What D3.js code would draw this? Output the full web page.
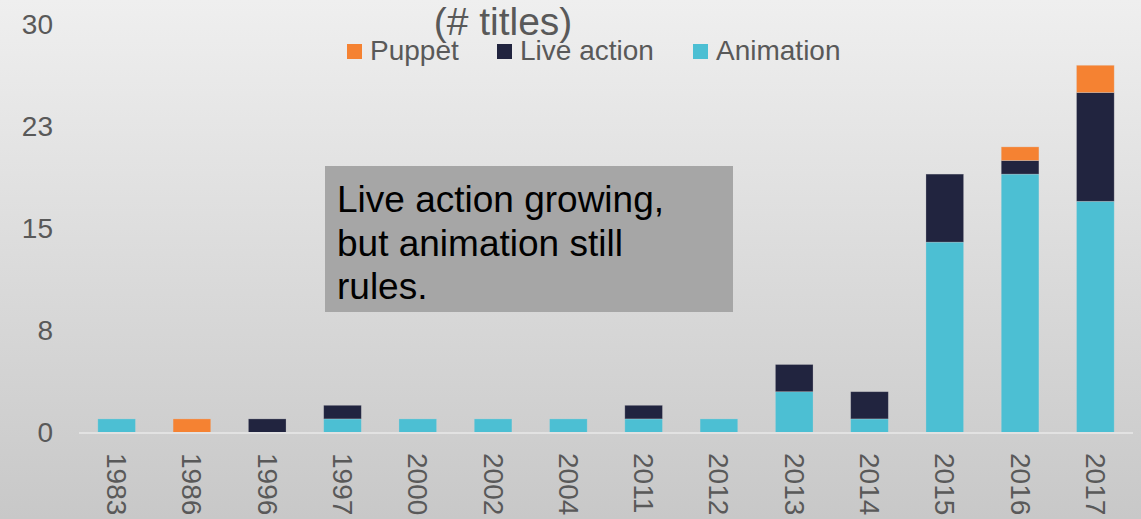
<!DOCTYPE html>
<html>
<head>
<meta charset="utf-8">
<script src="https://cdn.jsdelivr.net/npm/d3@7"></script>
<style>
  html, body { margin: 0; padding: 0; overflow: hidden; }
  svg { display: block; font-family: "Liberation Sans", Arial, sans-serif; }
</style>
</head>
<body>
<svg id="chart" width="1141" height="519"></svg>
<script>
// Titles released per year, split by format
const years = ["1983","1986","1996","1997","2000","2002","2004","2011","2012","2013","2014","2015","2016","2017"];
const animation  = [1, 0, 0, 1, 1, 1, 1, 1, 1, 3, 1, 14, 19, 17];
const liveAction = [0, 0, 1, 1, 0, 0, 0, 1, 0, 2, 2, 5, 1, 8];
const puppet     = [0, 1, 0, 0, 0, 0, 0, 0, 0, 0, 0, 0, 1, 2];
const seriesNames = ["Animation", "Live action", "Puppet"];
const legendOrder = ["Puppet", "Live action", "Animation"];
const yTicks = [0, 7.5, 15, 22.5, 30];
const titleText = "(# titles)";
const noteLines = ["Live action growing,", "but animation still", "rules."];

const colors = { "Animation": "#4cbfd3", "Live action": "#21243f", "Puppet": "#f58232" };

const svg = d3.select("#chart");
const W = 1141, H = 519;

// Background: soft vertical gradient
const defs = svg.append("defs");
const grad = defs.append("linearGradient").attr("id", "bg").attr("x1", 0).attr("y1", 0).attr("x2", 0).attr("y2", 1);
grad.append("stop").attr("offset", "0%").attr("stop-color", "#efefef");
grad.append("stop").attr("offset", "100%").attr("stop-color", "#c8c8c8");
svg.append("rect").attr("width", W).attr("height", H).attr("fill", "url(#bg)");

const x = d3.scaleBand().domain(years).range([79, 1133]).paddingInner(0.5).paddingOuter(0.25);
const y = d3.scaleLinear().domain([0, 30]).range([432.5, 24.5]);

const table = years.map((yr, i) => ({
  year: yr,
  "Animation": animation[i],
  "Live action": liveAction[i],
  "Puppet": puppet[i]
}));
const stacked = d3.stack().keys(seriesNames)(table);

// Bars
svg.append("g").selectAll("g")
  .data(stacked)
  .join("g")
  .attr("fill", d => colors[d.key])
  .selectAll("rect")
  .data(d => d.filter(p => p[1] - p[0] > 0))
  .join("rect")
  .attr("x", d => x(d.data.year))
  .attr("width", x.bandwidth())
  .attr("y", d => y(d[1]))
  .attr("height", d => y(d[0]) - y(d[1]))
  .attr("stroke", "#d9d9d9")
  .attr("stroke-opacity", 0.35)
  .attr("stroke-width", 0.75);

// Baseline
svg.append("line")
  .attr("x1", 79).attr("x2", 1133)
  .attr("y1", y(0) + 0.5).attr("y2", y(0) + 0.5)
  .attr("stroke", "#e2e2e2").attr("stroke-width", 2);

// Y axis labels (rounded like the source format)
const yAxis = d3.axisLeft(y).tickValues(yTicks).tickSize(0).tickPadding(0)
  .tickFormat(d => d3.format(".0f")(Math.round(d)));
const yg = svg.append("g").attr("transform", "translate(53,0)").call(yAxis);
yg.select(".domain").remove();
yg.selectAll("text")
  .attr("font-size", 28)
  .attr("fill", "#595959")
  .attr("font-family", "'Liberation Sans', Arial, sans-serif");

// X axis labels, rotated to read top to bottom
const xAxis = d3.axisBottom(x).tickSize(0).tickPadding(0);
const xg = svg.append("g").call(xAxis);
xg.select(".domain").remove();
xg.selectAll(".tick").attr("transform", d => `translate(${x(d) + x.bandwidth() / 2},453)`);
xg.selectAll("text")
  .attr("y", 0).attr("x", 0).attr("dy", null)
  .attr("transform", "rotate(90)")
  .attr("text-anchor", "start")
  .attr("dominant-baseline", "central")
  .attr("font-size", 28)
  .attr("fill", "#595959")
  .attr("font-family", "'Liberation Sans', Arial, sans-serif");

// Title
svg.append("text")
  .attr("x", 503).attr("y", 35)
  .attr("text-anchor", "middle")
  .attr("font-size", 39)
  .attr("fill", "#595959")
  .text(titleText);

// Legend
const legendPos = { "Puppet": 347, "Live action": 497, "Animation": 693 };
const lg = svg.append("g");
legendOrder.forEach(k => {
  lg.append("rect")
    .attr("x", legendPos[k]).attr("y", 44)
    .attr("width", 15).attr("height", 15)
    .attr("fill", colors[k]);
  lg.append("text")
    .attr("x", legendPos[k] + 23).attr("y", 60)
    .attr("font-size", 28)
    .attr("fill", "#595959")
    .text(k);
});

// Annotation box
svg.append("rect")
  .attr("x", 325).attr("y", 166)
  .attr("width", 408).attr("height", 146)
  .attr("fill", "#a6a6a6");
svg.append("g").selectAll("text")
  .data(noteLines)
  .join("text")
  .attr("x", 337)
  .attr("y", (d, i) => 212 + i * 43.5)
  .attr("font-size", 37)
  .attr("fill", "#000")
  .text(d => d);
</script>
</body>
</html>
